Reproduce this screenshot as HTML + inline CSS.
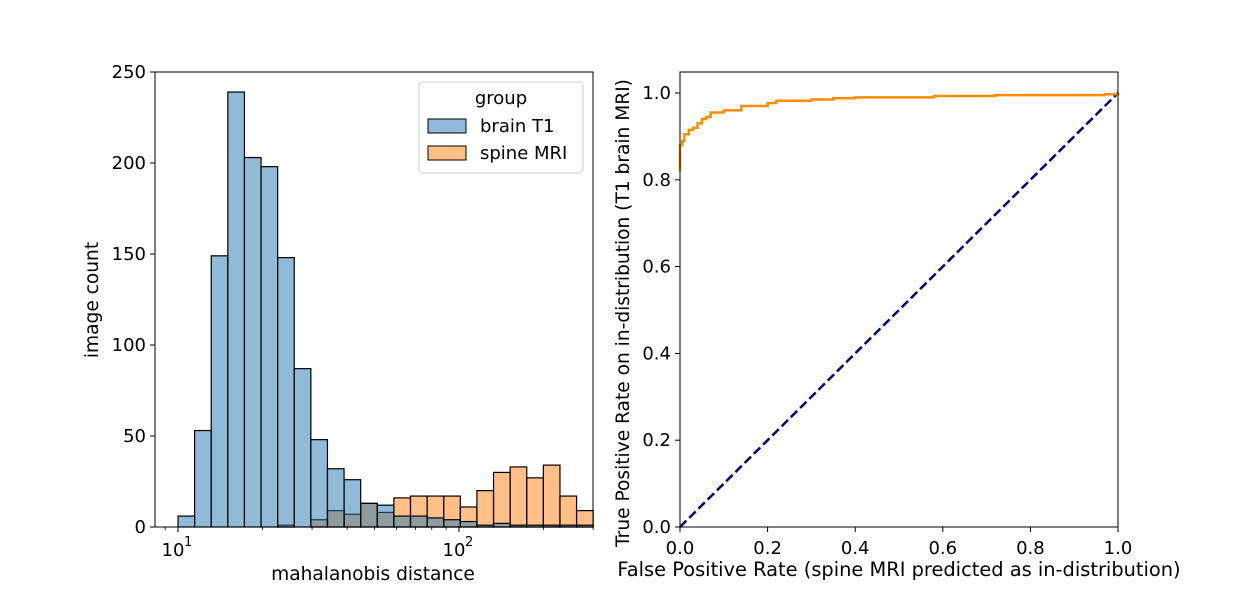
<!DOCTYPE html>
<html><head><meta charset="utf-8"><style>
body{margin:0;background:#fff}
svg text{font-family:"DejaVu Sans","Liberation Sans",sans-serif;fill:#000}
</style></head><body>
<svg id="c" width="1242" height="592" xmlns="http://www.w3.org/2000/svg"></svg>
<script>
const NS="http://www.w3.org/2000/svg";
const binStartLog=1, binWidthLog=0.0591;
const brainCounts=[6,53,149,239,203,198,148,87,48,32,26,13,12,6,6,5,4,3,1,2,1,1,1,1,1];
const spineCounts=[0,0,0,0,0,0,1,0,4,9,7,13,8,16,17,17,17,11,20,30,33,27,34,17,9];
const histYTicks=[0,50,100,150,200,250];
const rocFpr=[0,0,0.005,0.01,0.02,0.03,0.04,0.05,0.06,0.07,0.1,0.14,0.2,0.22,0.3,0.35,0.4,0.58,0.72,0.97,1];
const rocTpr=[0.82,0.88,0.89,0.905,0.915,0.92,0.93,0.94,0.945,0.955,0.96,0.97,0.977,0.982,0.985,0.988,0.99,0.993,0.995,0.997,1];
const rocTicks=[0,0.2,0.4,0.6,0.8,1.0];

const svg=document.getElementById('c');
function el(t,a,p){const e=document.createElementNS(NS,t);for(const k in a)e.setAttribute(k,a[k]);(p||svg).appendChild(e);return e;}
function txt(s,a,p){const e=el('text',a,p);e.textContent=s;return e;}
const TF=18, LF=18.6, XF=19.4;

const L={x0:155,x1:593,y0:527,y1:72};
const hx=v=>178+(v-1)*281;
const hy=c=>527-c*(455/250);
const gH=el('g',{});

function bars(counts,fill,name){
  counts.forEach((c,i)=>{
    if(c<=0)return;
    const a=binStartLog+i*binWidthLog,b=a+binWidthLog;
    const r=el('rect',{x:hx(a),y:hy(c),width:hx(b)-hx(a),height:hy(0)-hy(c),fill:fill,'fill-opacity':0.5,stroke:'#000','stroke-width':1.2},gH);
    
    
  });
}
bars(spineCounts,'#ff7f0e','spine-mri');
bars(brainCounts,'#1f77b4','brain-t1');
el('rect',{x:L.x0,y:L.y1,width:L.x1-L.x0,height:L.y0-L.y1,fill:'none',stroke:'#000','stroke-width':1},gH);
histYTicks.forEach(t=>{
  el('line',{x1:L.x0-5,x2:L.x0,y1:hy(t),y2:hy(t),stroke:'#000'},gH);
  const e=txt(t,{x:L.x0-9,y:hy(t)+6,'font-size':TF,'text-anchor':'end'},gH);
  
});
[1,2].forEach(d=>{
  el('line',{x1:hx(d),x2:hx(d),y1:L.y0,y2:L.y0+5,stroke:'#000'},gH);
  const e=txt('10',{x:hx(d)-5,y:556,'font-size':TF,'text-anchor':'middle'},gH);
  txt(String(d),{x:hx(d)+6,y:546,'font-size':13},gH);
  
});
[9,20,30,40,50,60,70,80,90,200,300].forEach(v=>{
  const x=hx(Math.log10(v)); if(x<L.x0||x>L.x1+0.5)return;
  el('line',{x1:x,x2:x,y1:L.y0,y2:L.y0+3,stroke:'#000','stroke-width':0.8},gH);
});
let t=txt('mahalanobis distance',{x:373,y:580,'font-size':LF,'text-anchor':'middle'},gH);

t=txt('image count',{x:98,y:300,'font-size':LF,'text-anchor':'middle',transform:'rotate(-90 98 300)'},gH);

const lg=el('g',{},gH);
el('rect',{x:419,y:82,width:164,height:91,rx:4,fill:'#fff','fill-opacity':0.8,stroke:'#ccc'},lg);
txt('group',{x:501,y:104,'font-size':TF,'text-anchor':'middle'},lg);
el('rect',{x:428,y:119,width:38,height:14,fill:'#1f77b4','fill-opacity':0.5,stroke:'#000'},lg);
txt('brain T1',{x:480,y:132,'font-size':TF},lg);
el('rect',{x:428,y:146,width:38,height:14,fill:'#ff7f0e','fill-opacity':0.5,stroke:'#000'},lg);
txt('spine MRI',{x:480,y:159,'font-size':TF},lg);

const R={x0:680,x1:1118,y0:527,y1:72};
const rx=v=>R.x0+v*(R.x1-R.x0);
const ry=v=>R.y0-v*(R.y0-93);
const gR=el('g',{});
let d='M'+rx(rocFpr[0])+' '+ry(rocTpr[0]);
for(let i=1;i<rocFpr.length;i++){d+=' L'+rx(rocFpr[i])+' '+ry(rocTpr[i-1])+' L'+rx(rocFpr[i])+' '+ry(rocTpr[i]);}
let p=el('line',{x1:rx(0),y1:ry(0),x2:rx(1),y2:ry(1),stroke:'#000080','stroke-width':2.5,'stroke-dasharray':'9,4'},gR);

p=el('path',{d:d,fill:'none',stroke:'#ff8c00','stroke-width':2.5},gR);

el('rect',{x:R.x0,y:R.y1,width:R.x1-R.x0,height:R.y0-R.y1,fill:'none',stroke:'#000','stroke-width':1},gR);
rocTicks.forEach(v=>{
  el('line',{x1:R.x0-5,x2:R.x0,y1:ry(v),y2:ry(v),stroke:'#000'},gR);
  let e=txt(v.toFixed(1),{x:R.x0-9,y:ry(v)+6,'font-size':TF,'text-anchor':'end'},gR);
  
  el('line',{x1:rx(v),x2:rx(v),y1:R.y0,y2:R.y0+5,stroke:'#000'},gR);
  e=txt(v.toFixed(1),{x:rx(v),y:554,'font-size':TF,'text-anchor':'middle'},gR);
  
});
t=txt('False Positive Rate (spine MRI predicted as in-distribution)',{x:899,y:576,'font-size':XF,'text-anchor':'middle'},gR);

t=txt('True Positive Rate on in-distribution (T1 brain MRI)',{x:629,y:313,'font-size':LF,'text-anchor':'middle',transform:'rotate(-90 629 313)'},gR);

</script>
</body></html>
